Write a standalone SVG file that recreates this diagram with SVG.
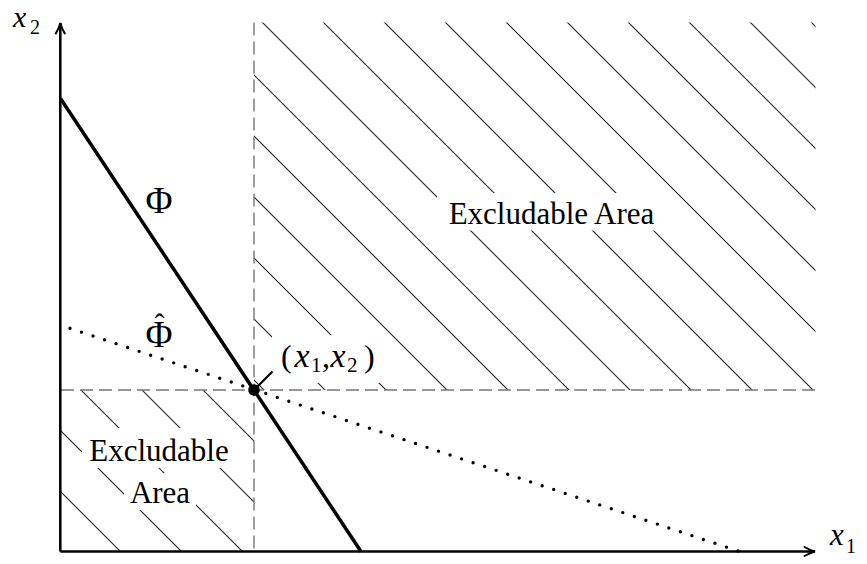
<svg xmlns="http://www.w3.org/2000/svg" width="867" height="564" viewBox="0 0 867 564">
<style>
  text { font-family: "Liberation Serif", "Times New Roman", serif; fill: #000; }
  .lbl { font-size: 31px; }
  .math { font-style: italic; }
  .hatch { stroke: #222; stroke-width: 1.1; fill: none; }
  .dash { stroke: #777; stroke-width: 1.4; stroke-dasharray: 13 6; fill: none; }
  .axis { stroke: #000; stroke-width: 2.6; fill: none; marker-end: url(#arr); }
  .bg { fill: #fff; stroke: none; }
</style>
<defs>
  <marker id="arr" viewBox="-12 -6 14 12" markerWidth="14" markerHeight="12" refX="0" refY="0" orient="auto" markerUnits="userSpaceOnUse">
    <path d="M-10.5,-4.5 C-7,-2.4 -3,-0.7 0,0 C-3,0.7 -7,2.4 -10.5,4.5" fill="none" stroke="#000" stroke-width="2" stroke-linecap="round"/>
  </marker>
  <clipPath id="regions">
    <rect x="254" y="22.5" width="561.5" height="367.5"/>
    <rect x="61" y="390" width="193" height="161.5"/>
  </clipPath>
</defs>

<g id="hatching" clip-path="url(#regions)">
  <path class="hatch" d="M40,-749 L900,111 M40,-688 L900,172 M40,-627 L900,233 M40,-566 L900,294 M40,-505 L900,355 M40,-444 L900,416 M40,-383 L900,477 M40,-322 L900,538 M40,-261 L900,599 M40,-200 L900,660 M40,-139 L900,721 M40,-78 L900,782 M40,-17 L900,843 M40,44 L900,904 M40,105 L900,965 M40,166 L900,1026 M40,227 L900,1087 M40,288 L900,1148 M40,349 L900,1209 M40,410 L900,1270 M40,471 L900,1331"/>
</g>

<g id="label-backgrounds">
  <rect class="bg" x="437" y="193" width="229" height="37.5"/>
  <rect class="bg" x="82" y="428" width="154" height="40"/>
  <rect class="bg" x="124" y="473" width="72" height="37"/>
  <rect class="bg" x="272" y="335" width="115" height="48"/>
</g>

<g id="connectors">
  <path class="dash" d="M254,22.5 L254,551.5"/>
  <path class="dash" d="M61,390 L815.5,390"/>
  <path id="axis-x2" class="axis" d="M60.3,551.5 L60.3,23"/>
  <path id="axis-x1" class="axis" d="M60.3,551.5 L815,551.5"/>
  <path id="line-phi" d="M60.5,98.5 L361,551.5" stroke="#000" stroke-width="3.5" fill="none"/>
  <path id="line-phi-hat" d="M70,328.3 L738,551" stroke="#000" stroke-width="3.4" stroke-linecap="round" stroke-dasharray="0 12.14" fill="none"/>
  <path id="pin" d="M254,390 L272.5,371.5" stroke="#000" stroke-width="2.2" fill="none"/>
</g>

<g id="point">
  <circle cx="254" cy="390" r="5.8" fill="#000"/>
</g>

<g id="label-x2">
  <text x="13" y="27" font-size="30" class="math">x</text>
  <text x="30" y="34" font-size="20">2</text>
</g>
<g id="label-x1">
  <text x="830" y="545" font-size="31" class="math">x</text>
  <text x="846" y="553" font-size="20">1</text>
</g>
<g id="label-phi">
  <text x="159" y="213" font-size="37" text-anchor="middle">Φ</text>
</g>
<g id="label-phi-hat">
  <text font-size="37" text-anchor="middle"><tspan x="159" y="347">Φ</tspan><tspan x="159.5" y="334" font-size="30">ˆ</tspan></text>
</g>
<g id="label-point">
  <text y="367" font-size="32"><tspan x="281">(</tspan><tspan x="294.5" class="math" font-size="34">x</tspan><tspan x="311" y="372" font-size="21">1</tspan><tspan x="322" y="367">,</tspan><tspan x="330.5" class="math" font-size="34">x</tspan><tspan x="347" y="372" font-size="21">2</tspan><tspan x="364" y="367">)</tspan></text>
</g>
<g id="label-excludable-upper">
  <text class="lbl" x="551.5" y="223.5" text-anchor="middle">Excludable Area</text>
</g>
<g id="label-excludable-lower">
  <text class="lbl" x="159" y="461" text-anchor="middle">Excludable</text>
  <text class="lbl" x="160" y="503" text-anchor="middle">Area</text>
</g>
</svg>
